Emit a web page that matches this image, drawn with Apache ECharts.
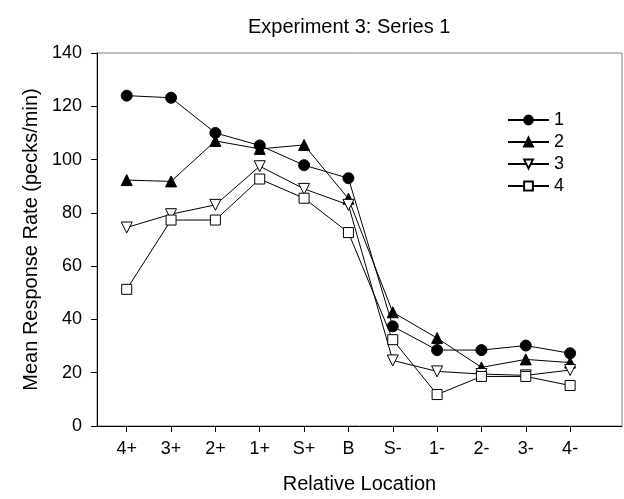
<!DOCTYPE html>
<html>
<head>
<meta charset="utf-8">
<script src="https://cdn.jsdelivr.net/npm/echarts@6/dist/echarts.min.js"></script>
<style>
  html, body { margin: 0; padding: 0; background: #fff; }
  #main { width: 624px; height: 499px; }
</style>
</head>
<body>
<div id="main"></div>
<script>
// relative locations along the x axis
const locations = ['4+', '3+', '2+', '1+', 'S+', 'B', 'S-', '1-', '2-', '3-', '4-'];
const yTicks = [0, 20, 40, 60, 80, 100, 120, 140];

// mean response rate (pecks/min)
const series1 = [124, 123.2, 110, 105.3, 97.9, 93, 37.4, 28.5, 28.5, 30.2, 27.3];
const series2 = [92.3, 91.8, 107, 104, 105.5, 85.3, 42.7, 33, 22, 25, 23.8];
const series3 = [74.5, 79.5, 83, 97.5, 89, 83, 24.6, 20.5, 19.5, 19, 21];
const series4 = [51.3, 77.3, 77.3, 92.7, 85.5, 72.6, 32.4, 11.8, 18.6, 18.6, 15.2];

const pairs = arr => arr.map((v, i) => [i, v]);

let myChart = echarts.init(document.getElementById('main'));

const font = 'Liberation Sans, Arial, sans-serif';

function line(name, data, symbol, size, fill, rotate) {
  return {
    name: name,
    type: 'line',
    data: pairs(data),
    symbol: symbol,
    symbolSize: size,
    symbolRotate: rotate || 0,
    showAllSymbol: true,
    lineStyle: { color: '#000', width: 1 },
    itemStyle: { color: fill, borderColor: '#000', borderWidth: 1 },
    emphasis: { disabled: true },
    animation: false
  };
}

myChart.setOption({
  animation: false,
  title: {
    text: 'Experiment 3: Series 1',
    left: 243,
    top: 12,
    textStyle: { fontFamily: font, fontSize: 20, fontWeight: 'normal', color: '#000' }
  },
  legend: {
    orient: 'vertical',
    left: 502,
    top: 106,
    itemWidth: 41,
    itemHeight: 11,
    itemGap: 4,
    textStyle: { fontFamily: font, fontSize: 18, color: '#000' },
    data: ['1', '2', '3', '4']
  },
  grid: {
    left: 97,
    top: 53,
    width: 525,
    height: 378,
    show: true,
    borderColor: '#808080',
    borderWidth: 1
  },
  xAxis: {
    type: 'value',
    min: -0.67,
    max: 11.17,
    name: 'Relative Location',
    nameLocation: 'middle',
    nameGap: 48,
    nameTextStyle: { fontFamily: font, fontSize: 20, color: '#000' },
    axisLine: { onZero: false, lineStyle: { color: '#000' } },
    axisTick: { length: 6, lineStyle: { color: '#000' }, customValues: locations.map((_, i) => i) },
    axisLabel: {
      customValues: locations.map((_, i) => i),
      formatter: v => locations[Math.round(v)],
      fontFamily: font, fontSize: 18, color: '#000', margin: 14
    },
    splitLine: { show: false }
  },
  yAxis: {
    type: 'value',
    min: 0,
    max: 140,
    interval: 20,
    name: 'Mean Response Rate (pecks/min)',
    nameLocation: 'middle',
    nameGap: 52,
    nameTextStyle: { fontFamily: font, fontSize: 20, color: '#000' },
    axisLine: { show: true, onZero: false, lineStyle: { color: '#000' } },
    axisTick: { show: true, length: 6, lineStyle: { color: '#000' } },
    axisLabel: {
      formatter: v => yTicks.includes(v) ? String(v) : '',
      fontFamily: font, fontSize: 18, color: '#000', margin: 15
    },
    splitLine: { show: false }
  },
  series: [
    line('1', series1, 'circle', 11, '#000'),
    line('2', series2, 'triangle', 11, '#000'),
    line('3', series3, 'triangle', 11, '#fff', 180),
    line('4', series4, 'rect', 10, '#fff')
  ]
});
</script>
</body>
</html>
